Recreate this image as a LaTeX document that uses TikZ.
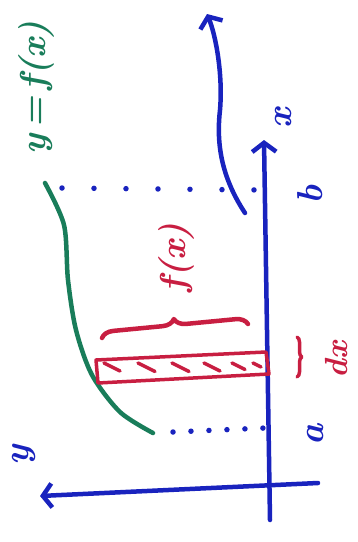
\documentclass[tikz,border=0pt]{standalone}
\usepackage{fontspec}
\usetikzlibrary{arrows.meta,decorations.pathreplacing}

\definecolor{penblue}{RGB}{25,35,190}
\definecolor{pengreen}{RGB}{25,125,90}
\definecolor{penred}{RGB}{200,30,65}

\begin{document}
\begin{tikzpicture}[x=1pt,y=-1pt,
    pen/.style={line width=4.5pt,line cap=round,line join=round},
    axis/.style={pen,penblue,-{Straight Barb[length=9pt,width=24pt]}},
    dotrow/.style={penblue,line width=5.5pt,line cap=round,dash pattern=on 0pt off #1},
    lbl/.style={rotate=90,inner sep=0pt,font=\fontsize{36}{36}\selectfont\bfseries\itshape},
    strip/.style={pen,penred,line width=3.5pt},
    hatch/.style={pen,penred,line width=3.5pt}]
    \useasboundingbox (0,0) rectangle (358,542);

    \draw[axis] (270,520) -- (264,140);
    \draw[axis] (318,483) -- (40,496);
    \draw[axis] (245,213) .. controls (222,178) and (216,145) .. (220,110) .. controls (223,75) and (216,36) .. (207,14);

    \node[lbl,penblue] (xlab) at (284,118) {x};
    \node[lbl,penblue] (ylab) at (24,455) {y};
    \node[lbl,penblue] (blab) at (310,195) {b};
    \node[lbl,penblue] (alab) at (316,435) {a};
    \node[lbl,pengreen] (curvelab) at (36,88) {y\,=\,f(x)};
    \node[lbl,penred] (flab) at (176,258) {f(x)};
    \node[lbl,penred,font=\fontsize{32}{32}\selectfont\bfseries\itshape] (dxlab) at (337,360) {dx};

    \draw[pen,pengreen] plot[smooth] coordinates {(45,183) (64,225) (68,280) (76,330) (92,375) (120,412) (153,433)};

    \draw[dotrow=32pt] (62,188) -- (260,190);
    \draw[dotrow=18pt] (173,432) -- (265,428);

    \draw[strip] (96,360) -- (266,352) -- (269,374) -- (98,383) -- cycle;
    \foreach \hx/\hl in {104/16,138/17,172/17,204/16,232/13,253/8}
        \draw[hatch] (\hx,363) -- ++(\hl,0.5*\hl);

    \draw[pen,penred,decorate,decoration={brace,amplitude=12pt}] (102,338) -- (248,324);
    \draw[pen,penred,line width=3.5pt,decorate,decoration={brace,amplitude=5pt}] (297,337) -- (297,377);
\end{tikzpicture}
\end{document}
